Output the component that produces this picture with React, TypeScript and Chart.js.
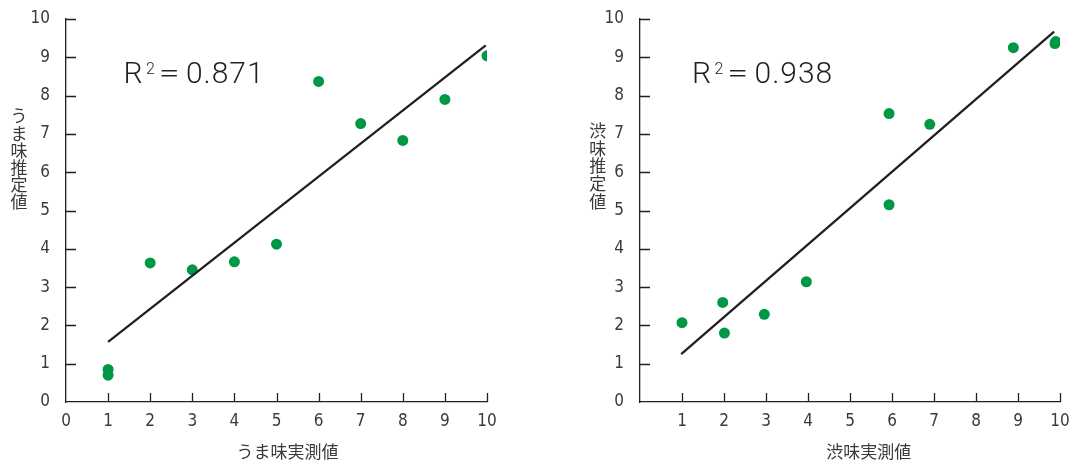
import React, { useEffect, useRef } from "react";
import { Chart, registerables } from "chart.js";

Chart.register(...registerables);

// ---- data ----
const umamiActual = [1, 1, 2, 3, 4, 5, 6, 7, 8, 9, 10];
const umamiEstimated = [0.85, 0.7, 3.63, 3.45, 3.66, 4.12, 8.37, 7.27, 6.83, 7.9, 9.04];
const umamiFitX = [1, 9.97];
const umamiFitY = [1.57, 9.31];
const umamiR2 = "0.871";

const shibumiActual = [1, 1.97, 2.01, 2.96, 3.96, 5.93, 5.93, 6.9, 8.89, 9.88, 9.9];
const shibumiEstimated = [2.07, 2.6, 1.8, 2.29, 3.14, 7.53, 5.15, 7.25, 9.25, 9.36, 9.41];
const shibumiFitX = [0.98, 9.86];
const shibumiFitY = [1.25, 9.67];
const shibumiR2 = "0.938";

const axisValues = [0, 1, 2, 3, 4, 5, 6, 7, 8, 9, 10];
const yTickLabels = ["0", "1", "2", "3", "4", "5", "6", "7", "8", "9", "10"];
const leftXTickLabels = ["0", "1", "2", "3", "4", "5", "6", "7", "8", "9", "10"];
const rightXTickLabels = ["", "1", "2", "3", "4", "5", "6", "7", "8", "9", "10"];

const umamiYTitle = "うま味推定値";
const umamiXTitle = "うま味実測値";
const shibumiYTitle = "渋味推定値";
const shibumiXTitle = "渋味実測値";

const GREEN = "#009844";
const INK = "#231f20";
const TEXT = "#3a3a3a";
const TICK_FONT = "'DejaVu Sans Condensed', 'Liberation Sans', sans-serif";
const JP_FONT = "'Noto Sans CJK JP', sans-serif";
const R2_FONT = "Roboto, 'Liberation Sans', sans-serif";

type PanelProps = {
  left: number;
  width: number;
  xs: number[];
  ys: number[];
  fitX: number[];
  fitY: number[];
  r2: string;
  xTickLabels: string[];
  yTitle: string;
  xTitle: string;
  yAxisWidth: number;
  padRight: number;
  r2Start: number;
  yTitleX: number;
  yTitleTop: number;
  yTitleStep: number;
  xTitleX: number;
};

function Panel(p: PanelProps) {
  const ref = useRef<HTMLCanvasElement | null>(null);
  useEffect(() => {
    const canvas = ref.current;
    if (!canvas) return;
    const decor = {
      id: "decor",
      afterDraw(chart: any) {
        const ctx = chart.ctx as CanvasRenderingContext2D;
        const area = chart.chartArea;
        const xs = chart.scales.x;
        const ys = chart.scales.y;
        ctx.save();
        // inward tick marks
        ctx.strokeStyle = INK;
        ctx.lineWidth = 1.3;
        ctx.beginPath();
        axisValues.forEach((v) => {
          if (v === 0) return;
          const py = Math.round(ys.getPixelForValue(v)) + 0.5;
          ctx.moveTo(area.left, py);
          ctx.lineTo(area.left + 10, py);
          const px = Math.round(xs.getPixelForValue(v)) + 0.5;
          ctx.moveTo(px, area.bottom);
          ctx.lineTo(px, area.bottom - 9);
        });
        ctx.stroke();

        // R^2 label
        ctx.fillStyle = "#231f20";
        ctx.textBaseline = "alphabetic";
        ctx.textAlign = "left";
        const r0 = area.left + p.r2Start;
        const base = 83;
        ctx.font = "300 30px " + R2_FONT;
        ctx.fillText("R", r0 - 2.3, base);
        ctx.font = "300 16px " + R2_FONT;
        ctx.fillText("2", r0 + 20.2, base - 9.5);
        ctx.font = "21px " + JP_FONT;
        ctx.textAlign = "center";
        ctx.fillText("＝", r0 + 43.5, base - 2);
        ctx.textAlign = "left";
        ctx.font = "300 30px " + R2_FONT;
        (ctx as any).letterSpacing = "1px";
        ctx.fillText(p.r2, r0 + 60.2, base);
        (ctx as any).letterSpacing = "0px";

        // axis titles
        ctx.fillStyle = TEXT;
        ctx.font = "17px " + JP_FONT;
        ctx.textAlign = "center";
        ctx.textBaseline = "middle";
        Array.from(p.yTitle).forEach((ch, i) => {
          ctx.fillText(ch, p.yTitleX, p.yTitleTop + p.yTitleStep * i);
        });
        ctx.fillText(p.xTitle, p.xTitleX, 452);
        ctx.restore();
      },
    };

    const chart = new Chart(canvas, {
      type: "scatter",
      data: {
        datasets: [
          {
            type: "line",
            data: p.fitX.map((v, i) => ({ x: v, y: p.fitY[i] })),
            borderColor: INK,
            borderWidth: 2.3,
            pointRadius: 0,
            showLine: true,
            fill: false,
          } as any,
          {
            data: p.xs.map((v, i) => ({ x: v, y: p.ys[i] })),
            backgroundColor: GREEN,
            borderColor: GREEN,
            borderWidth: 0,
            pointRadius: 5.5,
          },
        ],
      },
      options: {
        animation: false,
        responsive: false,
        maintainAspectRatio: false,
        devicePixelRatio: 1,
        layout: { padding: { left: 0, top: 19, right: p.padRight, bottom: 0 } },
        plugins: { legend: { display: false }, tooltip: { enabled: false } },
        scales: {
          x: {
            type: "linear",
            min: 0,
            max: 10,
            grid: { display: false, drawTicks: false },
            border: { display: true, color: INK, width: 1.3 },
            afterBuildTicks: (s: any) => {
              s.ticks = axisValues.map((v) => ({ value: v }));
            },
            afterFit: (s: any) => {
              s.height = 60;
              s.paddingLeft = 0;
              s.paddingRight = 0;
            },
            ticks: {
              autoSkip: false,
              maxRotation: 0,
              padding: 9,
              color: TEXT,
              font: { family: TICK_FONT, size: 17 },
              callback: (_v: any, i: number) => p.xTickLabels[i],
            },
          },
          y: {
            type: "linear",
            min: 0,
            max: 10,
            grid: { display: false, drawTicks: false },
            border: { display: true, color: INK, width: 1.3 },
            afterBuildTicks: (s: any) => {
              s.ticks = axisValues.map((v) => ({ value: v }));
            },
            afterFit: (s: any) => {
              s.width = p.yAxisWidth;
              s.paddingTop = 0;
              s.paddingBottom = 0;
            },
            ticks: {
              autoSkip: false,
              padding: 16,
              color: TEXT,
              font: { family: TICK_FONT, size: 17 },
              callback: (_v: any, i: number) => yTickLabels[i],
            },
          },
        },
      } as any,
      plugins: [decor],
    });
    return () => chart.destroy();
  }, []);
  return (
    <div style={{ position: "absolute", left: p.left, top: 0, width: p.width, height: 462 }}>
      <canvas ref={ref} width={p.width} height={462} style={{ display: "block" }} />
    </div>
  );
}

export default function App() {
  return (
    <div style={{ position: "fixed", left: 0, top: 0, width: 1071, height: 462, background: "#fff", overflow: "hidden" }}>
      <Panel
        left={0}
        width={540}
        xs={umamiActual}
        ys={umamiEstimated}
        fitX={umamiFitX}
        fitY={umamiFitY}
        r2={umamiR2}
        xTickLabels={leftXTickLabels}
        yTitle={umamiYTitle}
        xTitle={umamiXTitle}
        yAxisWidth={66}
        padRight={53}
        r2Start={59.7}
        yTitleX={19}
        yTitleTop={116}
        yTitleStep={17.2}
        xTitleX={287.5}
      />
      <Panel
        left={540}
        width={531}
        xs={shibumiActual}
        ys={shibumiEstimated}
        fitX={shibumiFitX}
        fitY={shibumiFitY}
        r2={shibumiR2}
        xTickLabels={rightXTickLabels}
        yTitle={shibumiYTitle}
        xTitle={shibumiXTitle}
        yAxisWidth={100}
        padRight={11}
        r2Start={54.3}
        yTitleX={57.7}
        yTitleTop={130.5}
        yTitleStep={17.7}
        xTitleX={328.7}
      />
    </div>
  );
}
